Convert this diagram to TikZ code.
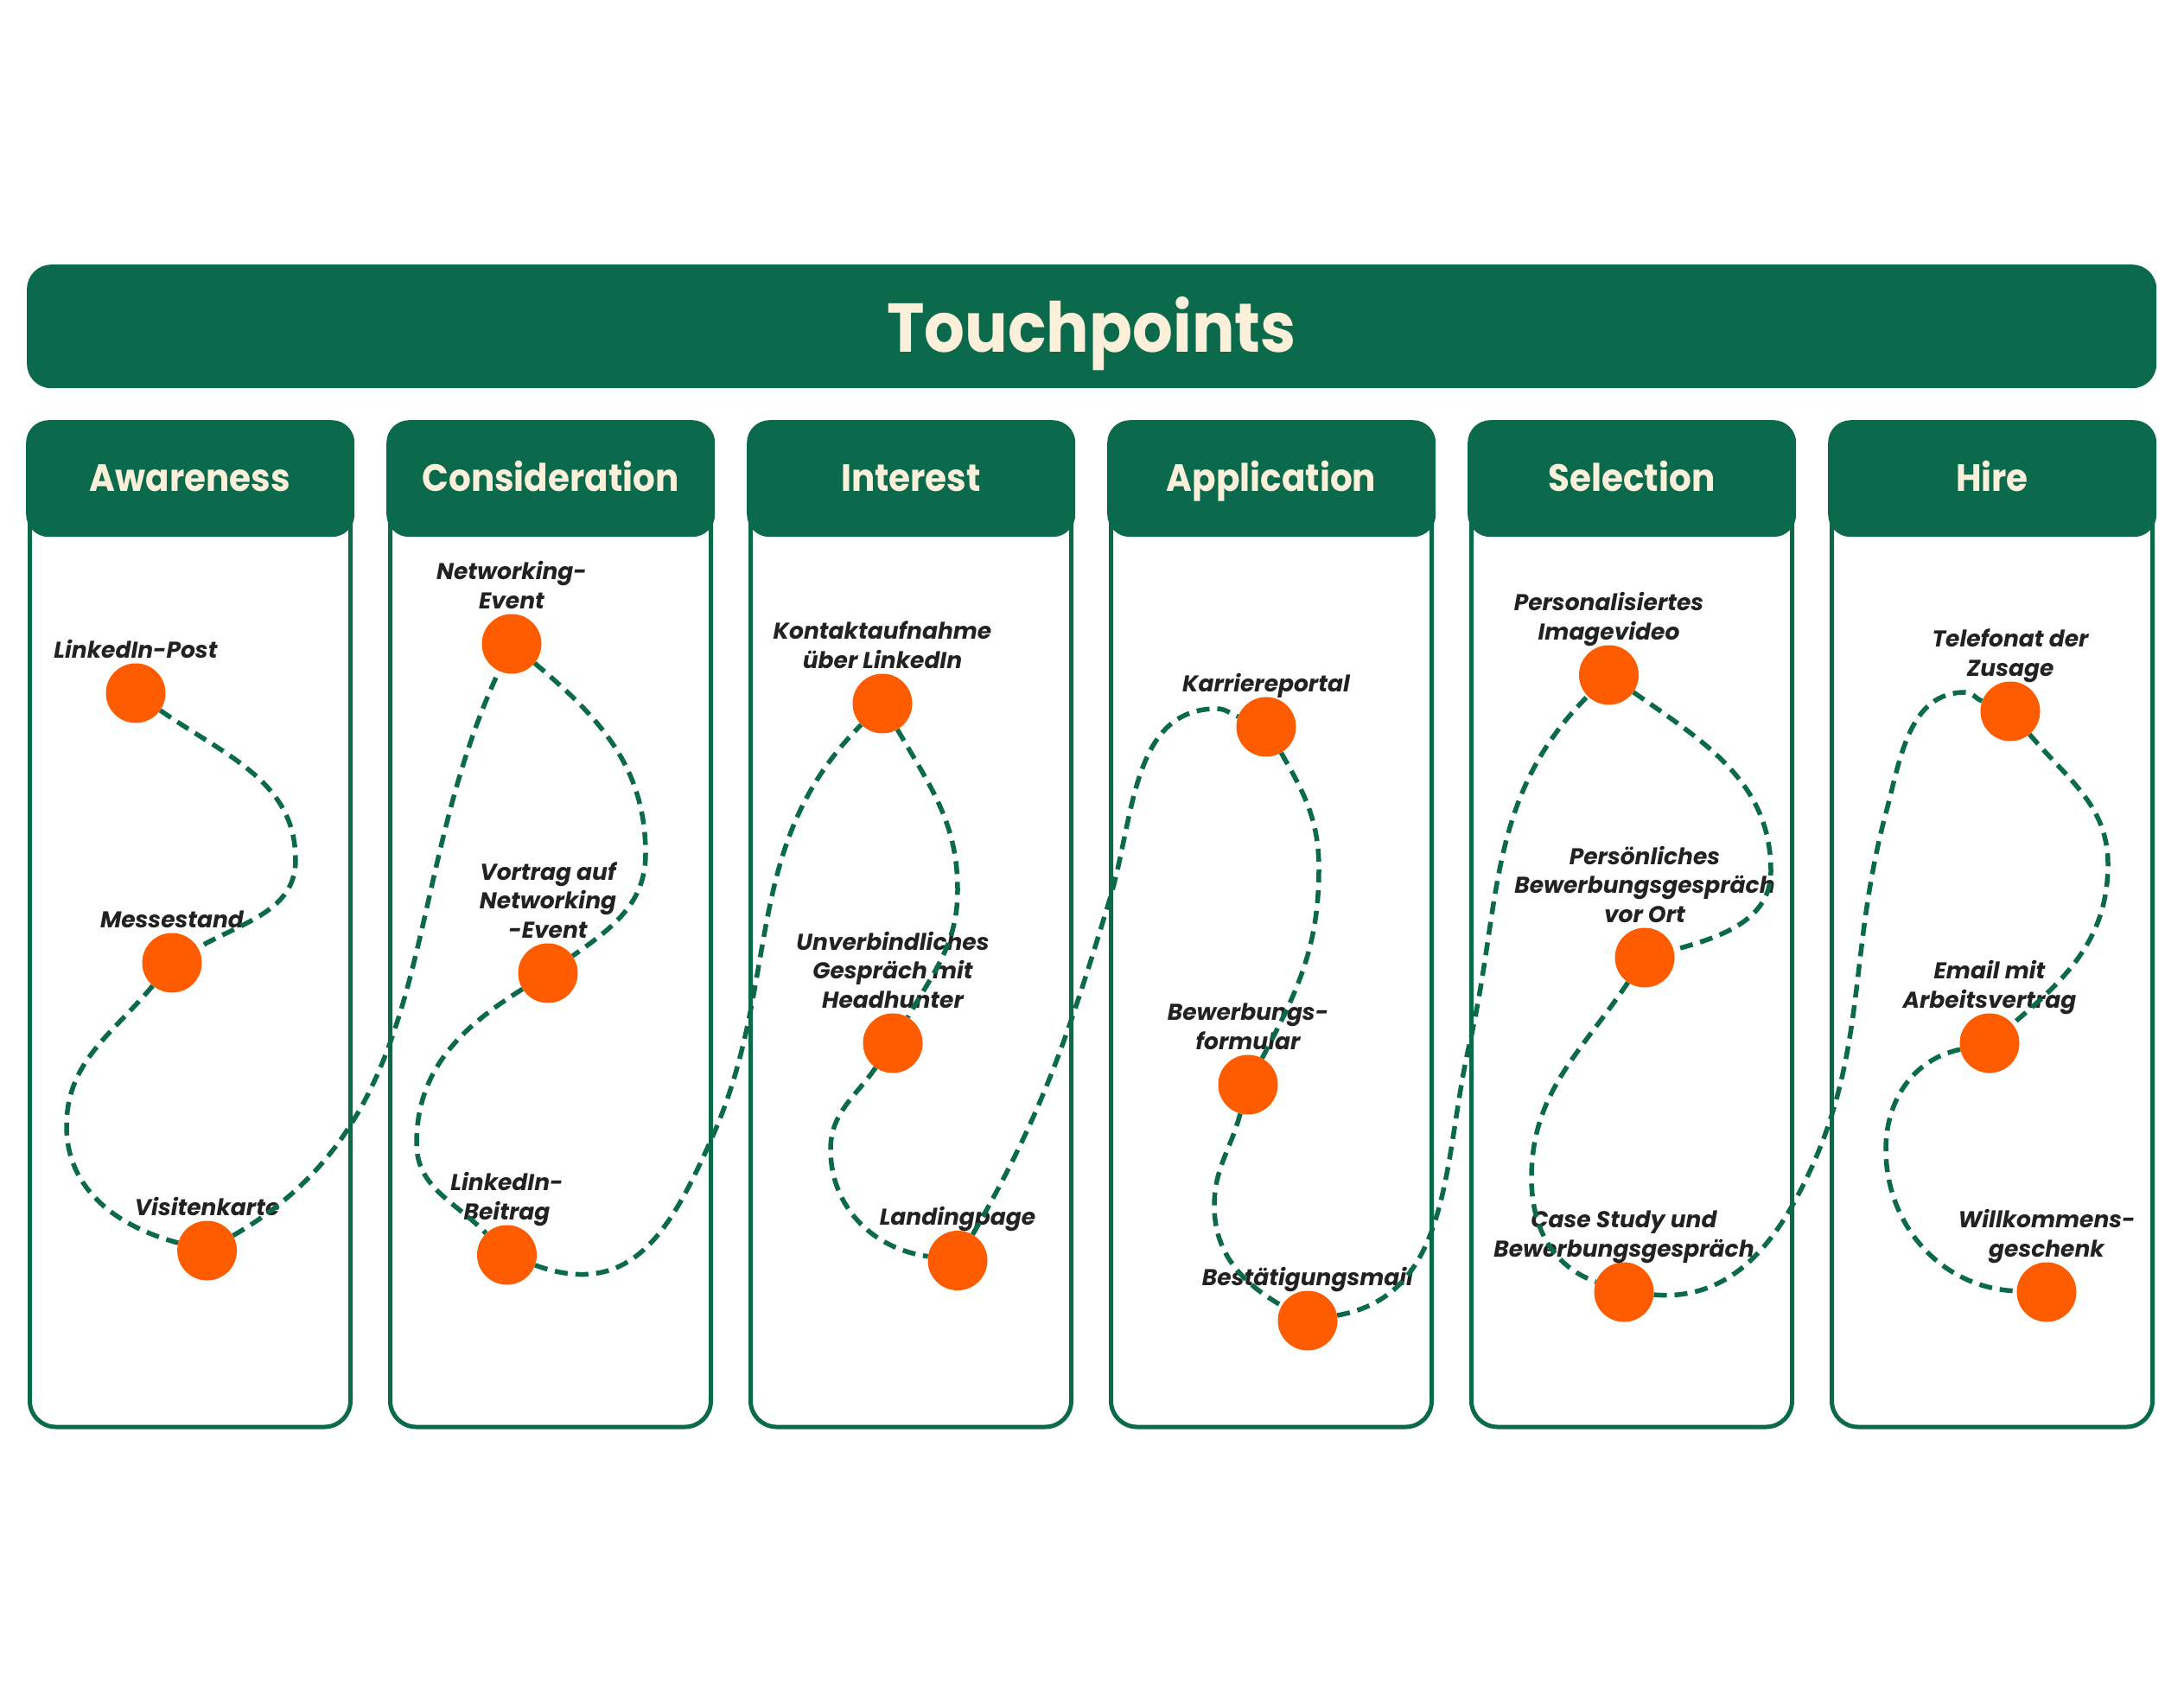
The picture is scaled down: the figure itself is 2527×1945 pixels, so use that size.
\documentclass[tikz,border=0pt]{standalone}
\usepackage{fontspec}
\setmainfont{Poppins}
\newfontfamily\headfont{Poppins}[FakeStretch=0.92]
\usetikzlibrary{calc}
\definecolor{tpgreen}{HTML}{0B6A4B}
\definecolor{tpcream}{HTML}{FCF0DA}
\definecolor{tporange}{HTML}{FF5C00}
\definecolor{tptext}{HTML}{222222}
\begin{document}
\begin{tikzpicture}[x=1pt,y=1pt,
  titlebox/.style={fill=tpgreen, rounded corners=28pt, minimum width=2464pt, minimum height=143pt, inner sep=0pt, anchor=north west},
  titletext/.style={text=tpcream, font=\headfont\fontsize{80}{90}\selectfont\bfseries, anchor=base, inner sep=0pt},
  colframe/.style={draw=tpgreen, line width=5pt, rounded corners=30pt},
  colhead/.style={fill=tpgreen, rounded corners=26pt, minimum width=380pt, minimum height=135pt, inner sep=0pt, anchor=north west},
  headtext/.style={text=tpcream, font=\headfont\fontsize{44}{50}\selectfont\bfseries, anchor=base, inner sep=0pt},
  dot/.style={circle, fill=tporange, minimum size=69pt, inner sep=0pt},
  lab/.style={text=tptext, font=\fontsize{26.5}{33.3}\selectfont\bfseries\itshape, align=center, anchor=south, inner sep=0pt, text depth=0pt},
  trail/.style={draw=tpgreen, line width=5.5pt, dash pattern=on 15pt off 9pt}
]
\useasboundingbox (0,0) rectangle (2527,-1945);
\fill[white] (0,0) rectangle (2527,-1945);

% title
\node[titlebox] (title) at (31,-306) {};
\node[titletext] (titletxt) at (1263,-407) {Touchpoints};

% columns
\foreach \i/\name in {0/Awareness,1/Consideration,2/Interest,3/Application,4/Selection,5/Hire}{
  \pgfmathsetmacro{\L}{30+417*\i}
  \draw[colframe] (\L+4.5,-560) rectangle (\L+375.5,-1651);
  \node[colhead] (h\i) at (\L,-486) {};
  \node[headtext] (ht\i) at (\L+190,-568) {\name};
}

% touchpoints
\foreach \n/\x/\y/\t in {
  1/157/802/{LinkedIn-Post},
  2/199/1114/{Messestand},
  3/239.6/1447/{Visitenkarte},
  4/592/745/{Networking-\\Event},
  5/634/1126/{Vortrag auf\\Networking\\-Event},
  6/586.5/1452/{LinkedIn-\\Beitrag},
  7/1021/814/{Kontaktaufnahme\\über LinkedIn},
  8/1033/1207/{Unverbindliches\\Gespräch mit\\Headhunter},
  9/1108/1458.5/{Landingpage},
  10/1465/841/{Karriereportal},
  11/1444/1255/{Bewerbungs-\\formular},
  12/1513/1528/{Bestätigungsmail},
  13/1861.5/781/{Personalisiertes\\Imagevideo},
  14/1903/1108/{Persönliches\\Bewerbungsgespräch\\vor Ort},
  15/1879/1495/{Case Study und\\Bewerbungsgespräch},
  16/2326/823/{Telefonat der\\Zusage},
  17/2302/1207/{Email mit\\Arbeitsvertrag},
  18/2368/1495/{Willkommens-\\geschenk}}{
  \node[dot] (d\n) at (\x,-\y) {};
  \node[lab] (l\n) at ([yshift=6pt]d\n.north) {\t};
}

% turning points of the trail
\coordinate (c1) at (342,-995);
\coordinate (c2) at (77,-1303);
\coordinate (c4) at (747,-988);
\coordinate (c5) at (482,-1323);
\coordinate (c6) at (824,-1316);
\coordinate (c7) at (1108,-1030);
\coordinate (c8) at (961,-1330);
\coordinate (c9a) at (1283.6,-1042);
\coordinate (c9) at (1408,-820);
\coordinate (c10) at (1526,-1005);
\coordinate (c11) at (1405,-1395);
\coordinate (c12) at (1700,-1209);
\coordinate (c13) at (2049,-1008);
\coordinate (c14) at (1772,-1363);
\coordinate (c15a) at (2080,-1383.5);
\coordinate (c15b) at (2182,-941);
\coordinate (c15p) at (2274,-801);
\coordinate (c16) at (2439,-1000);
\coordinate (c17) at (2182,-1330);

\draw[trail] (d1) to[out=-35,in=90] (c1) to[out=-90,in=30] (d2)
  to[out=-130,in=90] (c2) to[out=-90,in=165] (d3)
  to[out=30,in=245] (d4)
  to[out=-40,in=90] (c4) to[out=-90,in=35] (d5)
  to[out=212,in=90] (c5) to[out=-90,in=134] (d6)
  to[out=-20,in=246,looseness=1.2] (c6) to[out=66,in=225] (d7)
  to[out=-60,in=90] (c7) to[out=-90,in=60] (d8)
  to[out=235,in=90] (c8) to[out=-90,in=172] (d9)
  to[out=60,in=253] (c9a) to[out=73,in=180] (c9) to[out=0,in=160] (d10)
  to[out=-60,in=90] (c10) to[out=-90,in=62] (d11)
  to[out=255,in=90] (c11) to[out=-90,in=150] (d12)
  to[out=10,in=257] (c12) to[out=77,in=225] (d13)
  to[out=-35,in=90] (c13) to[out=-90,in=15] (d14)
  to[out=236,in=90] (c14) to[out=-90,in=160] (d15)
  to[out=-5,in=242] (c15a) to[out=62,in=255] (c15b) to[out=75,in=180] (c15p) to[out=0,in=160] (d16)
  to[out=-50,in=90] (c16) to[out=-90,in=40] (d17)
  to[out=192,in=90] (c17) to[out=-90,in=178] (d18);
\end{tikzpicture}
\end{document}
